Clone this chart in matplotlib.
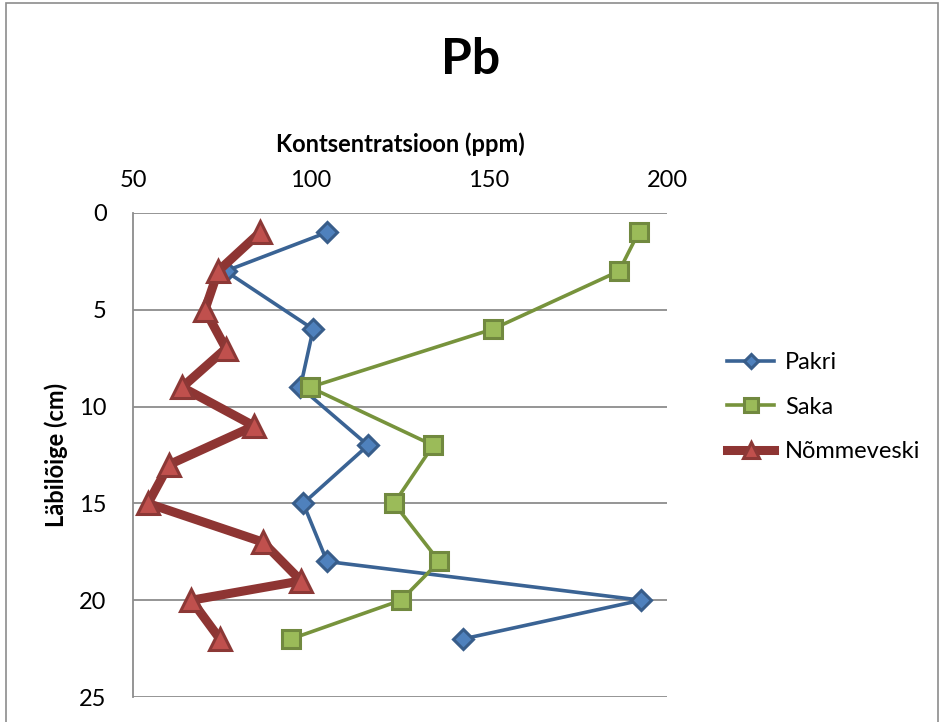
import numpy as np
import matplotlib.pyplot as plt
from matplotlib.patches import Rectangle

plt.rcParams['font.family'] = ['Lato', 'DejaVu Sans']

# andmed (sügavus cm, kontsentratsioon ppm)
pakri_y = [1, 3, 6, 9, 12, 15, 18, 20, 22]
pakri_x = [104.5, 76, 100.6, 97, 116, 97.8, 104.5, 192.7, 142.7]

saka_y = [1, 3, 6, 9, 12, 15, 18, 20, 22]
saka_x = [192, 186.5, 151, 99.7, 134.3, 123.3, 136, 125.3, 94.4]

nomme_y = [1, 3, 5, 7, 9, 11, 13, 15, 17, 19, 20, 22]
nomme_x = [85.7, 73.9, 70.2, 76.1, 63.8, 84.0, 60.1, 54.2, 86.5, 97.2, 66.4, 74.4]

fig = plt.figure(figsize=(9.42, 7.22), dpi=100)
ax = fig.add_axes([0.1412, 0.0346, 0.567, 0.6704])

ax.plot(pakri_x, pakri_y, color="#3A6394", lw=2.6, marker="D", ms=10,
        mfc="#4F81BD", mec="#385D8A", mew=2.2, label="Pakri", zorder=3)
ax.plot(saka_x, saka_y, color="#77933C", lw=2.6, marker="s", ms=13,
        mfc="#9BBB59", mec="#71893F", mew=2.2, label="Saka", zorder=4)
ax.plot(nomme_x, nomme_y, color="#8E3533", lw=6.5, marker="^", ms=16,
        mfc="#C0504D", mec="#8C3836", mew=2.2, label="Nõmmeveski", zorder=5)

ax.set_xlim(50, 200)
ax.set_ylim(25, 0)
ax.set_xticks([50, 100, 150, 200])
ax.set_yticks([0, 5, 10, 15, 20, 25])
ax.xaxis.tick_top()
ax.xaxis.set_label_position("top")
ax.tick_params(length=0, labelsize=17)
ax.tick_params(axis="x", pad=16)
ax.tick_params(axis="y", pad=19)
ax.grid(axis="y", color="#8C8C8C", lw=1.3)
for s in ["top", "right", "bottom"]:
    ax.spines[s].set_visible(False)
ax.spines["left"].set_color("#8C8C8C")
ax.spines["left"].set_linewidth(1.3)

ax.set_xlabel("Kontsentratsioon (ppm)", fontsize=17, fontweight="bold", labelpad=13)
ax.set_ylabel("Läbilõige (cm)", fontsize=17, fontweight="bold", labelpad=8)
fig.text(0.5, 0.917, "Pb", fontsize=36, fontweight="bold", ha="center", va="center")

leg = ax.legend(loc="center left", bbox_to_anchor=(1.112, 0.599), frameon=False,
                fontsize=17, handlelength=2.0, handletextpad=0.45, labelspacing=1.0,
                borderpad=0, borderaxespad=0, markerscale=0.75)

fig.patches.append(Rectangle((0.006, -0.01), 0.99, 1.006, transform=fig.transFigure,
                             fill=False, edgecolor="#8C8C8C", lw=1.2))

fig.savefig("out.png", dpi=100)
